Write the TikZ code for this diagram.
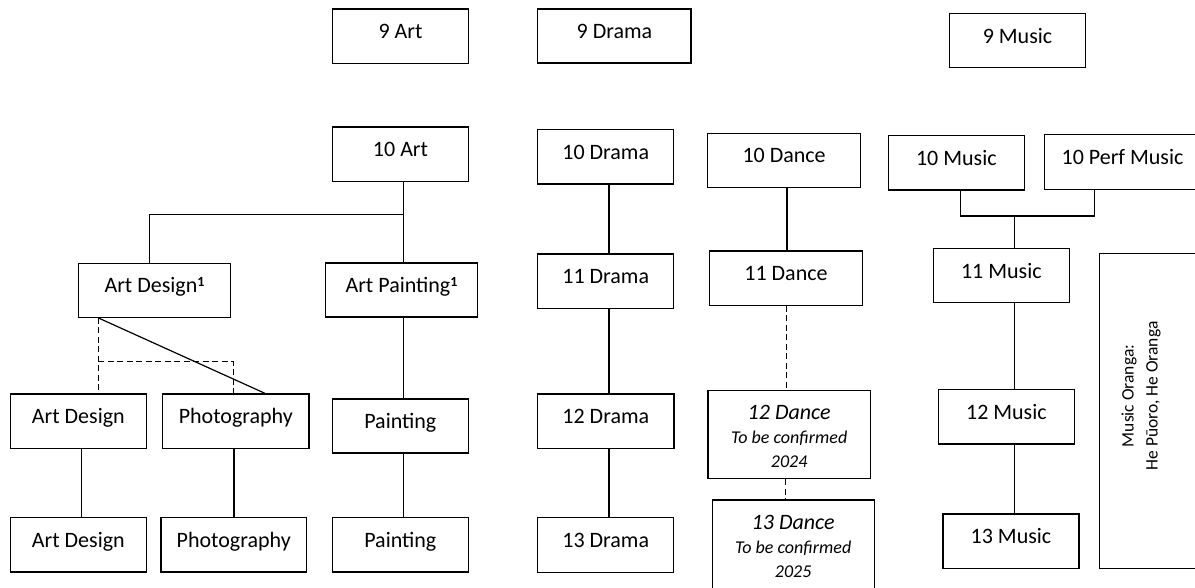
\documentclass[tikz,border=0pt]{standalone}
\usepackage{fontspec}
\setmainfont{Carlito}
\begin{document}
\begin{tikzpicture}[x=1pt,y=1pt,
  line width=1.2pt,
  box/.style={draw, line width=1.2pt, inner sep=0pt, align=center,
    font=\fontsize{22}{26}\selectfont, text height=15pt, text depth=10pt},
  tallbox/.style={draw, line width=1.2pt, inner sep=0pt, align=center,
    font=\fontsize{22}{24}\selectfont\itshape},
  conn/.style={line width=1.2pt},
  dconn/.style={line width=1.2pt, dash pattern=on 6pt off 3.5pt}
]
\path[use as bounding box] (0,0) rectangle (1195,-587);
\clip (0,0) rectangle (1195,-587);

% column x-coordinates for connectors
\coordinate (artx) at (403.7,0);
\coordinate (adx) at (149.3,0);
\coordinate (dsx) at (98.3,0);
\coordinate (phx) at (233.3,0);
\coordinate (dgx) at (265,0);
\coordinate (ad2x) at (81.7,0);
\coordinate (ph2x) at (234,0);
\coordinate (drx) at (609,0);
\coordinate (dnx) at (787,0);
\coordinate (dn2x) at (786.7,0);
\coordinate (dn3x) at (785.6,0);
\coordinate (mx) at (960.7,0);
\coordinate (pmx) at (1094.3,0);
\coordinate (mux) at (1014.3,0);
\coordinate (j1) at (0,-214.7);
\coordinate (j2) at (0,-361.7);
\coordinate (j3) at (0,-216);

% Row 9
\node[box, minimum width=135.6pt, minimum height=54.3pt] (a9) at (400.5,-36.2) {9 Art};
\node[box, minimum width=153.3pt, minimum height=54pt] (d9) at (614.4,-36) {9 Drama};
\node[box, minimum width=136.4pt, minimum height=54.4pt] (m9) at (1017.5,-40.5) {9 Music};

% Row 10
\node[box, minimum width=135.6pt, minimum height=54.7pt] (a10) at (400.5,-154.4) {10 Art};
\node[box, minimum width=136pt, minimum height=54.3pt] (d10) at (605.7,-156.9) {10 Drama};
\node[box, minimum width=153.2pt, minimum height=54.3pt] (dn10) at (784.1,-160.4) {10 Dance};
\node[box, minimum width=136pt, minimum height=54.7pt] (m10) at (956.3,-162.7) {10 Music};
\node[box, minimum width=156.4pt, minimum height=54.6pt] (pm10) at (1122.5,-162) {10 Perf Music};

% Row 11
\node[box, minimum width=152.4pt, minimum height=54pt] (ad11) at (154.5,-290.3) {Art Design\raisebox{6.5pt}{\fontsize{14}{14}\selectfont\bfseries 1}};
\node[box, minimum width=152.4pt, minimum height=54pt] (ap11) at (401.5,-290) {Art Painting\raisebox{6.5pt}{\fontsize{14}{14}\selectfont\bfseries 1}};
\node[box, minimum width=136pt, minimum height=54.3pt] (d11) at (605.7,-281.2) {11 Drama};
\node[box, minimum width=153pt, minimum height=54.3pt] (dn11) at (786,-278.2) {11 Dance};
\node[box, minimum width=136pt, minimum height=54.4pt] (m11) at (1001.3,-275.5) {11 Music};

% Music Oranga
\node[draw, line width=1.2pt, inner sep=0pt, minimum width=100.7pt, minimum height=315pt] (mo) at (1149.7,-410.8) {};
\node[rotate=90, align=center, inner sep=0pt, font=\fontsize{17.5}{24}\selectfont] (mot) at (1141,-396) {Music Oranga:\\He Pūoro, He Oranga};

% Row 12
\node[box, minimum width=136pt, minimum height=54.7pt] (ad12) at (78.3,-421.3) {Art Design};
\node[box, minimum width=146.3pt, minimum height=54.7pt] (ph12) at (235.8,-421.3) {Photography};
\node[box, minimum width=136pt, minimum height=54pt] (pa12) at (400.3,-426) {Painting};
\node[box, minimum width=136.2pt, minimum height=54.7pt] (d12) at (605.8,-421.3) {12 Drama};
\node[tallbox, minimum width=162.5pt, minimum height=88.4pt] (dn12) at (789.2,-434.5) {\rule{0pt}{19pt}12 Dance\\{\fontsize{18}{24}\selectfont To be confirmed}\\{\fontsize{18}{24}\selectfont 2024}};
\node[box, minimum width=136pt, minimum height=54.7pt] (m12) at (1006.4,-416.7) {12 Music};

% Row 13
\node[box, minimum width=136pt, minimum height=54.7pt] (ad13) at (78.3,-544.7) {Art Design};
\node[box, minimum width=145.3pt, minimum height=54.7pt] (ph13) at (233.7,-544.7) {Photography};
\node[box, minimum width=136pt, minimum height=54.7pt] (pa13) at (400.3,-544.7) {Painting};
\node[box, minimum width=136pt, minimum height=55pt] (d13) at (605.7,-544.8) {13 Drama};
\node[tallbox, minimum width=161.9pt, minimum height=88.4pt] (dn13) at (793.2,-544.2) {\rule{0pt}{18pt}13 Dance\\{\fontsize{18}{24}\selectfont To be confirmed}\\{\fontsize{18}{24}\selectfont 2025}};
\node[box, minimum width=136pt, minimum height=54.3pt] (m13) at (1011,-541.2) {13 Music};

% Art connectors
\draw[conn] (a10.south -| artx) -- (ap11.north -| artx);
\draw[conn] (artx |- j1) -- (adx |- j1) -- (ad11.north -| adx);
\draw[conn] (ap11.south -| artx) -- (pa12.north -| artx);
\draw[conn] (pa12.south -| artx) -- (pa13.north -| artx);
\draw[dconn] (ad11.south -| dsx) -- (ad12.north -| dsx);
\draw[dconn] (dsx |- j2) -- (phx |- j2) -- (ph12.north -| phx);
\draw[conn] (ad11.south -| dsx) -- (ph12.north -| dgx);
\draw[conn] (ad12.south -| ad2x) -- (ad13.north -| ad2x);
\draw[conn] (ph12.south -| ph2x) -- (ph13.north -| ph2x);

% Drama connectors
\draw[conn] (d10.south -| drx) -- (d11.north -| drx);
\draw[conn] (d11.south -| drx) -- (d12.north -| drx);
\draw[conn] (d12.south -| drx) -- (d13.north -| drx);

% Dance connectors
\draw[conn] (dn10.south -| dnx) -- (dn11.north -| dnx);
\draw[dconn] (dn11.south -| dn2x) -- (dn12.north -| dn2x);
\draw[dconn] (dn12.south -| dn3x) -- (dn13.north -| dn3x);

% Music connectors
\draw[conn] (m10.south -| mx) -- (mx |- j3) -- (pmx |- j3) -- (pm10.south -| pmx);
\draw[conn] (mux |- j3) -- (m11.north -| mux);
\draw[conn] (m11.south -| mux) -- (m12.north -| mux);
\draw[conn] (m12.south -| mux) -- (m13.north -| mux);
\end{tikzpicture}
\end{document}
